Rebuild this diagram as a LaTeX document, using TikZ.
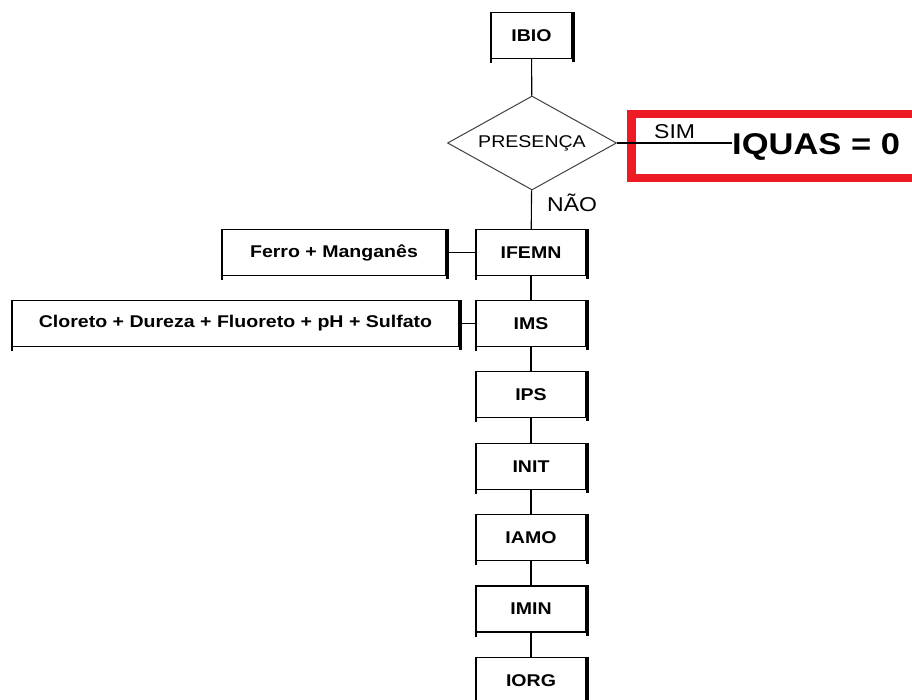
\documentclass[tikz,border=0pt]{standalone}
\usepackage{fontspec}
\setmainfont{Liberation Sans}
\newfontfamily\flowfont[FakeStretch=1.15]{Liberation Sans}
\usetikzlibrary{shapes.geometric}
\definecolor{alertred}{RGB}{237,28,36}
\begin{document}
\begin{tikzpicture}[x=1pt,y=-1pt,
  idxbox/.style={draw, line width=1.1pt, inner sep=0pt, minimum height=46pt,
    font=\flowfont\fontsize{17}{19}\selectfont\bfseries},
  link/.style={line width=1.1pt},
  decision/.style={diamond, draw=black!75, line width=1pt, inner sep=0pt,
    aspect=1.8, minimum width=169pt, minimum height=94pt,
    font=\flowfont\fontsize{17}{19}\selectfont}]
\useasboundingbox (0,0) rectangle (912,700);

% main chain of indices
\node[idxbox, minimum width=81pt] (ibio) at (531.5,35.5) {IBIO};
\node[decision] (pres) at (532,143) {PRESENÇA};
\node[idxbox, minimum width=110pt] (ifemn) at (531,252.5) {IFEMN};
\node[idxbox, minimum width=110pt] (ims)   at (531,323.5) {IMS};
\node[idxbox, minimum width=110pt] (ips)   at (531,394.5) {IPS};
\node[idxbox, minimum width=110pt] (init)  at (531,466.5) {INIT};
\node[idxbox, minimum width=110pt] (iamo)  at (531,537.5) {IAMO};
\node[idxbox, minimum width=110pt] (imin)  at (531,609) {IMIN};
\node[idxbox, minimum width=110pt] (iorg)  at (531,680.5) {IORG};

% parameter boxes on the left
\node[idxbox, minimum width=224pt] (femn) at (334,252.5) {Ferro + Manganês};
\node[idxbox, minimum width=447pt] (param) at (235.5,323.5) {Cloreto + Dureza + Fluoreto + pH + Sulfato};

% thick right edge and small foot at the lower left of every box
\foreach \n in {ibio,ifemn,ims,ips,init,iamo,imin,iorg,femn,param} {
  \draw[line width=3pt] ([xshift=1pt]\n.north east) -- ([xshift=1pt,yshift=-3pt]\n.south east);
  \draw[line width=1.1pt] ([xshift=0.55pt]\n.south west) -- ([xshift=0.55pt,yshift=-4pt]\n.south west);
}

% result for the "yes" branch
\draw[alertred, line width=8.5pt] (918,114) -- (631.5,114) -- (631.5,178) -- (918,178);
\node[anchor=base west, inner sep=0pt, font=\flowfont\fontsize{30}{33}\selectfont\bfseries] (iquas) at (732,155) {IQUAS = 0};
\node[anchor=base west, inner sep=0pt, font=\flowfont\fontsize{20}{22}\selectfont] (sim) at (654,139) {SIM};
\node[anchor=base west, inner sep=0pt, font=\flowfont\fontsize{20}{22}\selectfont] (nao) at (547,212) {NÃO};

% connectors
\draw[link] (ibio) -- (pres);
\draw[link] (pres.east) -- (pres.east -| iquas.west);
\draw[link] (pres) -- (ifemn);
\draw[link] (ifemn) -- (ims);
\draw[link] (ims) -- (ips);
\draw[link] (ips) -- (init);
\draw[link] (init) -- (iamo);
\draw[link] (iamo) -- (imin);
\draw[link] (imin) -- (iorg);
\draw[link] (femn.east) -- (ifemn.west);
\draw[link] (param.east) -- (ims.west);
\end{tikzpicture}
\end{document}
